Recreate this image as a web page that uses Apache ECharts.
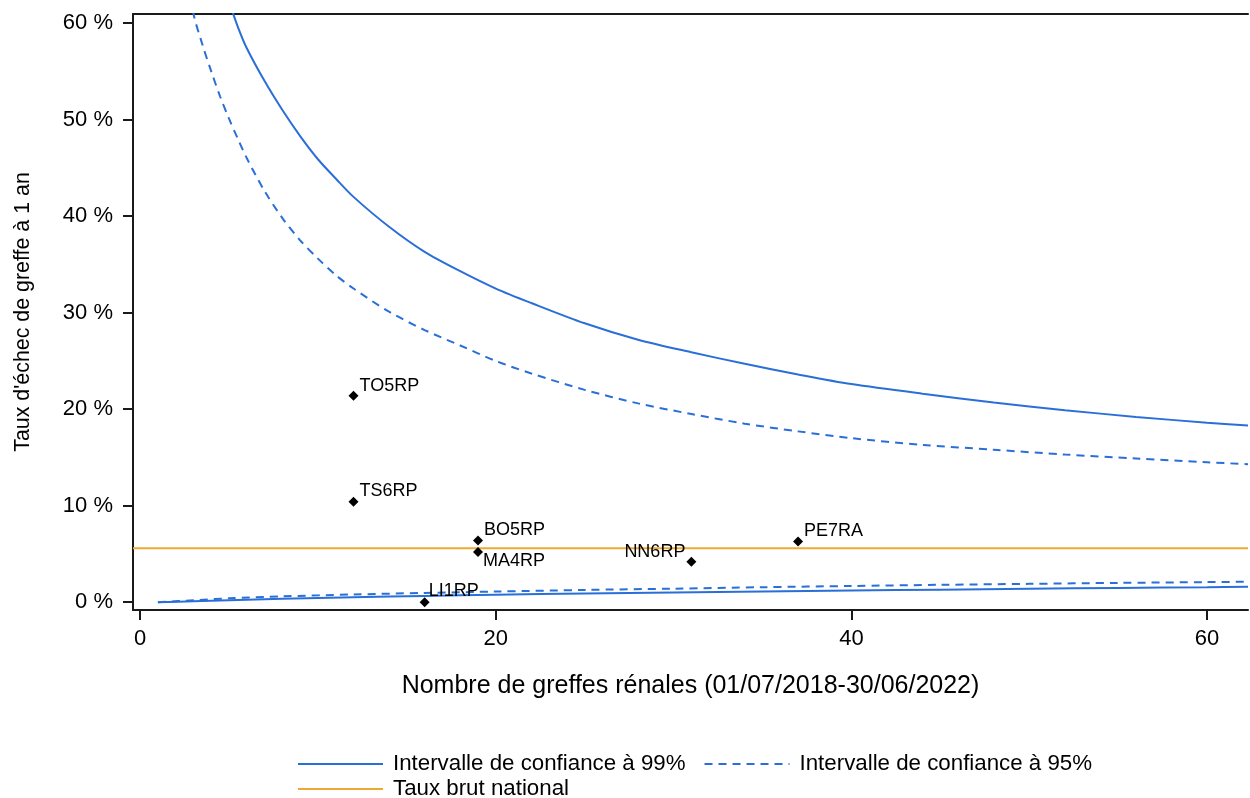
<!DOCTYPE html>
<html>
<head>
<meta charset="utf-8">
<script src="https://cdn.jsdelivr.net/npm/echarts@6/dist/echarts.min.js"></script>
<style>
html,body{margin:0;padding:0;background:#fff;}
#chart{width:1250px;height:798px;}
</style>
</head>
<body>
<div id="chart"></div>
<script>
// ---- Data ----
const xTicks = [0, 20, 40, 60];
const yTicks = [0, 10, 20, 30, 40, 50, 60];

// Upper control limits (n = number of grafts, value in %)
const nUpper = [2.5, 3, 3.5, 4, 4.5, 5, 5.5, 6, 7, 8, 9, 10, 11, 12, 14, 16, 18, 20, 22, 25, 28, 31, 34, 37, 40, 44, 48, 52, 56, 60, 62.3];
const upper99 = [82, 76, 71, 67.5, 64.6, 62.2, 59.6, 57.4, 54.0, 51.0, 48.3, 45.9, 43.9, 42.0, 38.9, 36.3, 34.3, 32.5, 31.0, 28.9, 27.2, 25.9, 24.7, 23.6, 22.6, 21.6, 20.7, 19.9, 19.2, 18.6, 18.3];
const upper95 = [67, 61, 57.8, 55.0, 52.4, 50.1, 48.0, 46.0, 42.6, 39.8, 37.5, 35.6, 33.9, 32.5, 30.1, 28.2, 26.6, 25.0, 23.7, 22.0, 20.6, 19.5, 18.5, 17.7, 17.0, 16.3, 15.8, 15.3, 14.9, 14.5, 14.3];

// Lower control limits
const nLower = [1, 3, 5, 8, 12, 16, 20, 25, 30, 35, 40, 45, 50, 55, 60, 62.3];
const lower99 = [0, 0.1, 0.2, 0.35, 0.5, 0.65, 0.78, 0.9, 1.0, 1.1, 1.2, 1.3, 1.4, 1.48, 1.55, 1.6];
const lower95 = [0, 0.2, 0.4, 0.6, 0.8, 0.96, 1.1, 1.27, 1.4, 1.55, 1.68, 1.8, 1.9, 2.0, 2.08, 2.12];

// National crude rate (%)
const nationalRate = 5.6;

// Centres
const centres = ['TO5RP', 'TS6RP', 'BO5RP', 'MA4RP', 'LI1RP', 'NN6RP', 'PE7RA'];
const centreN = [12, 12, 19, 19, 16, 31, 37];
const centreRate = [21.4, 10.4, 6.4, 5.2, 0, 4.2, 6.3];

// Texts
const xTitle = 'Nombre de greffes rénales (01/07/2018-30/06/2022)';
const yTitle = "Taux d'échec de greffe à 1 an";
const name99 = 'Intervalle de confiance à 99%';
const name95 = 'Intervalle de confiance à 95%';
const nameNat = 'Taux brut national';

// ---- Presentation ----
const F = "'Liberation Sans', Arial, Helvetica, sans-serif";
const BLUE = '#2a6fd8';
const ORANGE = '#f0a830';
const AXIS = '#1a1a1a';
const X_MIN = -0.4, X_MAX = 62.3, Y_MIN = -0.81, Y_MAX = 60.95;

const zip = (xs, ys) => xs.map((x, i) => [x, ys[i]]);

// label placement per centre (style only): side and pixel shift
const labelPlace = {
  TO5RP: {position: 'right', dx: 0, dy: -10},
  TS6RP: {position: 'right', dx: 0, dy: -11},
  BO5RP: {position: 'right', dx: 0, dy: -10},
  MA4RP: {position: 'right', dx: -1, dy: 9},
  LI1RP: {position: 'right', dx: -2, dy: -11},
  NN6RP: {position: 'left', dx: 0, dy: -10},
  PE7RA: {position: 'right', dx: 0, dy: -10}
};

const scatterData = centres.map((c, i) => ({
  name: c,
  value: [centreN[i], centreRate[i]],
  label: {show: true, position: labelPlace[c].position}
}));

const lineCommon = {
  type: 'line',
  symbol: 'none',
  smooth: 0.3,
  clip: true,
  silent: true
};

const legendCommon = {
  itemWidth: 85, itemHeight: 14, itemGap: 18,
  itemStyle: {opacity: 0},
  textStyle: {fontSize: 22.3, color: '#000', fontFamily: F, padding: [0, 0, 0, 5]},
  selectedMode: false
};

const option = {
  animation: false,
  backgroundColor: '#fff',
  textStyle: {fontFamily: F, color: '#000'},
  grid: {left: 133, right: 2, top: 14, bottom: 188, containLabel: false},
  xAxis: [{
    type: 'value', min: X_MIN, max: X_MAX, position: 'bottom',
    axisLine: {show: true, onZero: false, lineStyle: {color: AXIS, width: 2}},
    axisTick: {show: true, length: 10, customValues: xTicks, lineStyle: {color: AXIS, width: 2}},
    axisLabel: {customValues: xTicks, fontSize: 22, margin: 18, color: '#000', fontFamily: F},
    splitLine: {show: false},
    name: xTitle, nameLocation: 'middle', nameGap: 64,
    nameTextStyle: {fontSize: 25, color: '#000', fontFamily: F}
  }, {
    type: 'value', min: X_MIN, max: X_MAX, position: 'top',
    axisLine: {show: true, onZero: false, lineStyle: {color: AXIS, width: 2}},
    axisTick: {show: false}, axisLabel: {show: false}, splitLine: {show: false}
  }],
  yAxis: {
    type: 'value', min: Y_MIN, max: Y_MAX,
    axisLine: {show: true, onZero: false, lineStyle: {color: AXIS, width: 2}},
    axisTick: {show: true, length: 10, customValues: yTicks, lineStyle: {color: AXIS, width: 2}},
    axisLabel: {customValues: yTicks, fontSize: 22, margin: 20, color: '#000', fontFamily: F,
      formatter: v => v + ' %'},
    splitLine: {show: false},
    name: yTitle, nameLocation: 'middle', nameGap: 99, nameRotate: 90,
    nameTextStyle: {fontSize: 21.4, color: '#000', fontFamily: F}
  },
  legend: [
    Object.assign({}, legendCommon, {left: 292, top: 748, data: [name99, name95]}),
    Object.assign({}, legendCommon, {left: 292, top: 773, data: [nameNat]})
  ],
  series: [
    Object.assign({}, lineCommon, {
      name: name99, data: zip(nUpper, upper99),
      lineStyle: {color: BLUE, width: 2}, itemStyle: {color: BLUE}
    }),
    Object.assign({}, lineCommon, {
      name: name99, data: zip(nLower, lower99),
      lineStyle: {color: BLUE, width: 2}, itemStyle: {color: BLUE}
    }),
    Object.assign({}, lineCommon, {
      name: name95, data: zip(nUpper, upper95),
      lineStyle: {color: BLUE, width: 2, type: [8, 6]}, itemStyle: {color: BLUE}
    }),
    Object.assign({}, lineCommon, {
      name: name95, data: zip(nLower, lower95),
      lineStyle: {color: BLUE, width: 2, type: [8, 6]}, itemStyle: {color: BLUE}
    }),
    {
      type: 'line', name: nameNat, symbol: 'none', silent: true,
      data: [[X_MIN, nationalRate], [X_MAX, nationalRate]],
      lineStyle: {color: ORANGE, width: 2}, itemStyle: {color: ORANGE}
    },
    {
      type: 'scatter', name: 'Centres', symbol: 'diamond', symbolSize: 10,
      itemStyle: {color: '#000', opacity: 1}, z: 5, silent: true,
      label: {show: true, formatter: '{b}', fontSize: 18, color: '#000', fontFamily: F, distance: 1},
      labelLayout: function (p) {
        const lp = labelPlace[centres[p.dataIndex]];
        return {dx: lp.dx, dy: lp.dy, hideOverlap: false};
      },
      data: scatterData
    }
  ]
};

const chart = echarts.init(document.getElementById('chart'), null, {renderer: 'canvas'});
chart.setOption(option);
</script>
</body>
</html>
